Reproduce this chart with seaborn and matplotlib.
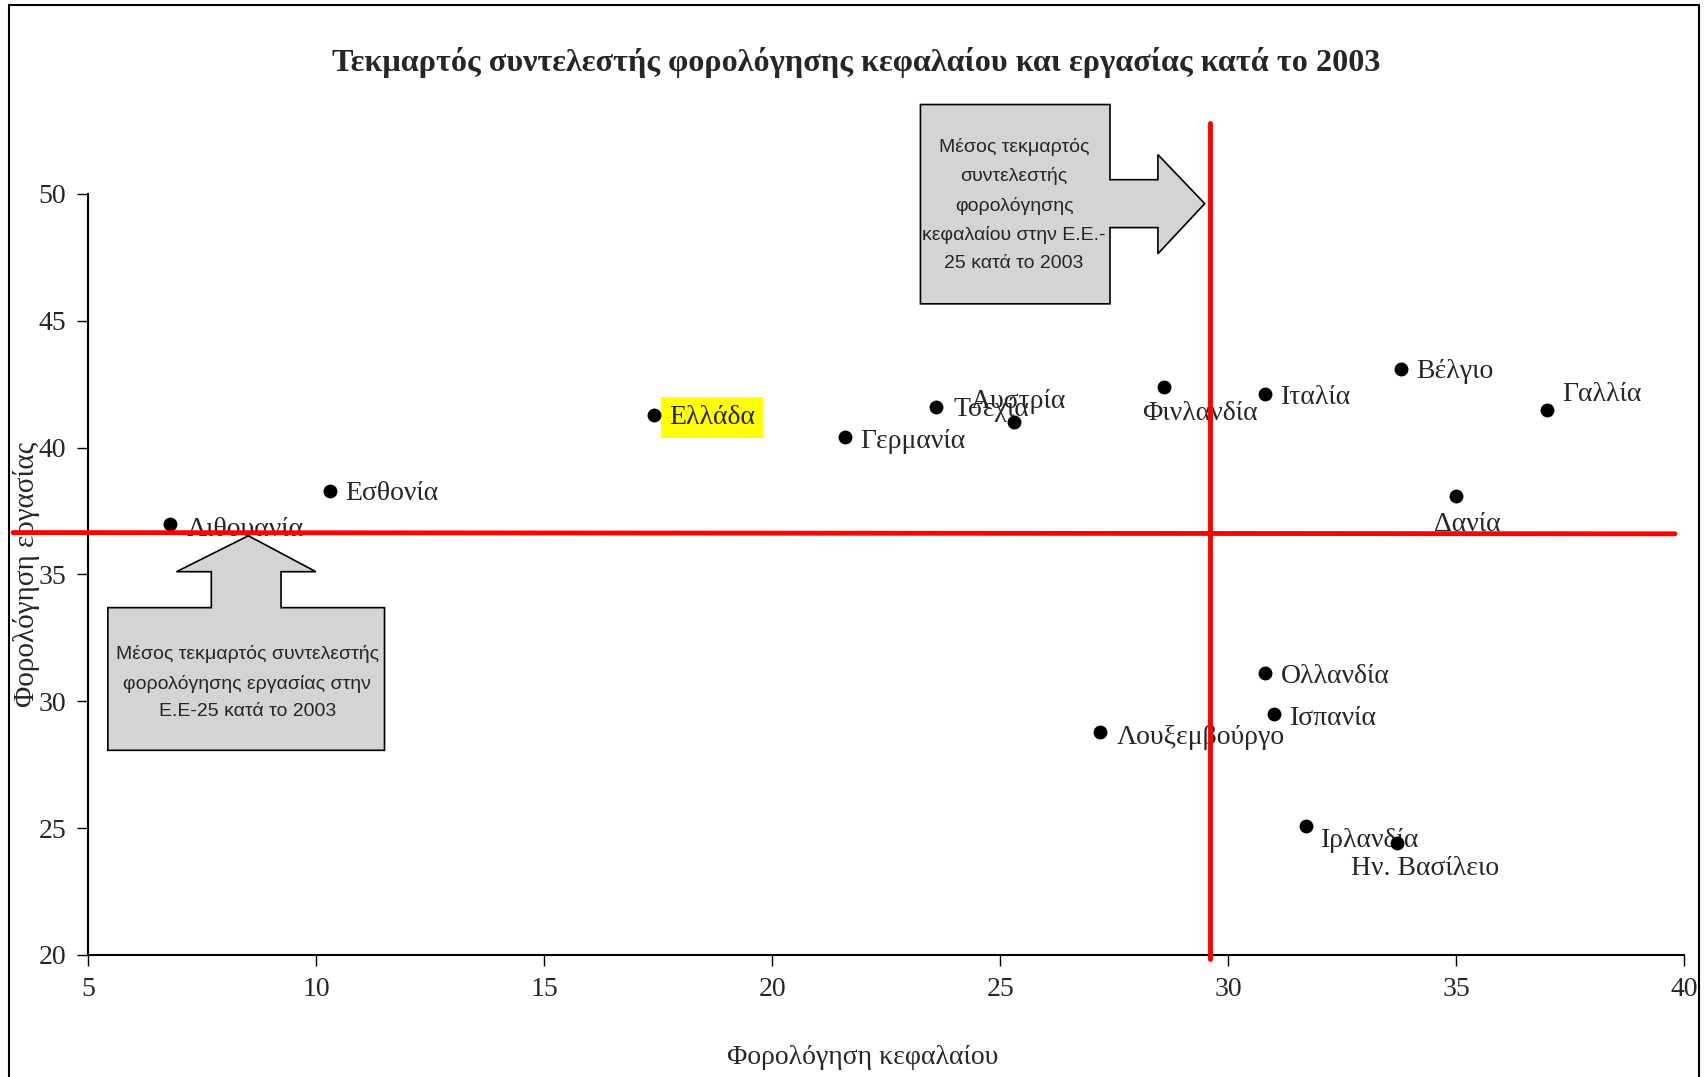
import numpy as np
import pandas as pd
import seaborn as sns
import matplotlib.pyplot as plt
from matplotlib.patches import Polygon, Rectangle

# data
countries = ['Λιθουανία', 'Εσθονία', 'Ελλάδα', 'Γερμανία', 'Τσεχία', 'Αυστρία',
             'Φινλανδία', 'Ιταλία', 'Βέλγιο', 'Γαλλία', 'Δανία', 'Ολλανδία',
             'Ισπανία', 'Λουξεμβούργο', 'Ιρλανδία', 'Ην. Βασίλειο']
capital_tax = [6.8, 10.3, 17.4, 21.6, 23.6, 25.3, 28.6, 30.8, 33.8, 37.0, 35.0,
               30.8, 31.0, 27.2, 31.7, 33.7]
labour_tax = [37.0, 38.3, 41.3, 40.4, 41.6, 41.0, 42.4, 42.1, 43.1, 41.5, 38.1,
              31.1, 29.5, 28.8, 25.1, 24.4]
mean_capital = 29.6
mean_labour = 36.65

x_ticks = [5, 10, 15, 20, 25, 30, 35, 40]
y_ticks = [20, 25, 30, 35, 40, 45, 50]

# label offsets in points (placement only)
label_offsets = [(12, -4), (11, -2), (11, -2), (11, -3), (12, -2), (-31, 15),
                 (-16, -19), (12, -2), (11, -2), (11, 11), (-16, -21), (12, -2),
                 (12, -3), (12, -4), (11, -11), (-33, -18)]

df = pd.DataFrame({'country': countries, 'capital': capital_tax, 'labour': labour_tax})

sns.set_style("white")
plt.rcParams['font.family'] = ['Liberation Serif', 'DejaVu Serif']

fig = plt.figure(figsize=(17.08, 10.77), dpi=100)
ax = fig.add_axes([0.0517, 0.1133, 0.9343, 0.7067])

sns.scatterplot(data=df, x='capital', y='labour', color='black', s=100,
                edgecolor='black', linewidth=0, ax=ax, zorder=3)

for name, x, y, off in zip(countries, capital_tax, labour_tax, label_offsets):
    kw = {}
    if name == 'Ελλάδα':
        kw['bbox'] = dict(boxstyle='square,pad=0.3', fc='#ffff00', ec='none')
    ax.annotate(name, (x, y), xytext=off, textcoords='offset points',
                ha='left', va='center', fontsize=20, zorder=2, **kw)

# mean reference lines
ax.plot([3.35, 39.8], [mean_labour, mean_labour - 0.05], color='#ff0000', lw=3.5,
        clip_on=False, zorder=4)
ax.plot([mean_capital, mean_capital], [19.85, 52.8], color='#ff0000', lw=3.5,
        clip_on=False, zorder=4)

ax.set_xlim(5, 40)
ax.set_ylim(20, 50)
ax.set_xticks(x_ticks)
ax.set_yticks(y_ticks)
ax.tick_params(axis='both', labelsize=20, direction='out', length=8, width=1,
               color='black', left=True, bottom=True, pad=8)
for side in ['top', 'right']:
    ax.spines[side].set_visible(False)
for side in ['left', 'bottom']:
    ax.spines[side].set_color('black')
    ax.spines[side].set_linewidth(1.5)

ax.set_xlabel('Φορολόγηση κεφαλαίου', fontsize=20)
ax.xaxis.set_label_coords(0.485, -0.118)
ax.set_ylabel('Φορολόγηση εργασίας', fontsize=21)
ax.yaxis.set_label_coords(-0.03, 0.5)

fig.text(0.5013, 0.942, 'Τεκμαρτός συντελεστής φορολόγησης κεφαλαίου και εργασίας κατά το 2003',
         ha='center', va='center', fontsize=23.2, fontweight='bold')

# callout boxes with arrows (figure coordinates, from a 1568x989 layout)
def fig_pts(pts):
    return [(px / 1568, 1 - py / 989) for px, py in pts]

callout1 = [(845, 96), (1019, 96), (1019, 165), (1063, 165), (1063, 142), (1106, 187),
            (1063, 233), (1063, 209), (1019, 209), (1019, 279), (845, 279)]
callout2 = [(99, 558), (194, 558), (194, 525), (162, 525), (228, 492), (290, 525),
            (258, 525), (258, 558), (353, 558), (353, 689), (99, 689)]
for pts in [callout1, callout2]:
    fig.patches.append(Polygon(fig_pts(pts), closed=True, transform=fig.transFigure,
                               fc='#d4d4d4', ec='black', lw=1.2, zorder=5))

fig.text(931 / 1568, 1 - 188 / 989,
         'Μέσος τεκμαρτός\nσυντελεστής\nφορολόγησης\nκεφαλαίου στην Ε.Ε.-\n25 κατά το 2003',
         ha='center', va='center', fontsize=14, family=['Liberation Sans', 'DejaVu Sans'],
         linespacing=1.82, zorder=6)
fig.text(227 / 1568, 1 - 627 / 989,
         'Μέσος τεκμαρτός συντελεστής\nφορολόγησης εργασίας στην\nΕ.Ε-25 κατά το 2003',
         ha='center', va='center', fontsize=14, family=['Liberation Sans', 'DejaVu Sans'],
         linespacing=1.82, zorder=6)

# outer frame
fig.patches.append(Rectangle((0.005, -0.01), 0.99, 1.005, transform=fig.transFigure,
                             fill=False, ec='black', lw=1.5))

fig.savefig('out.png', dpi=100)
